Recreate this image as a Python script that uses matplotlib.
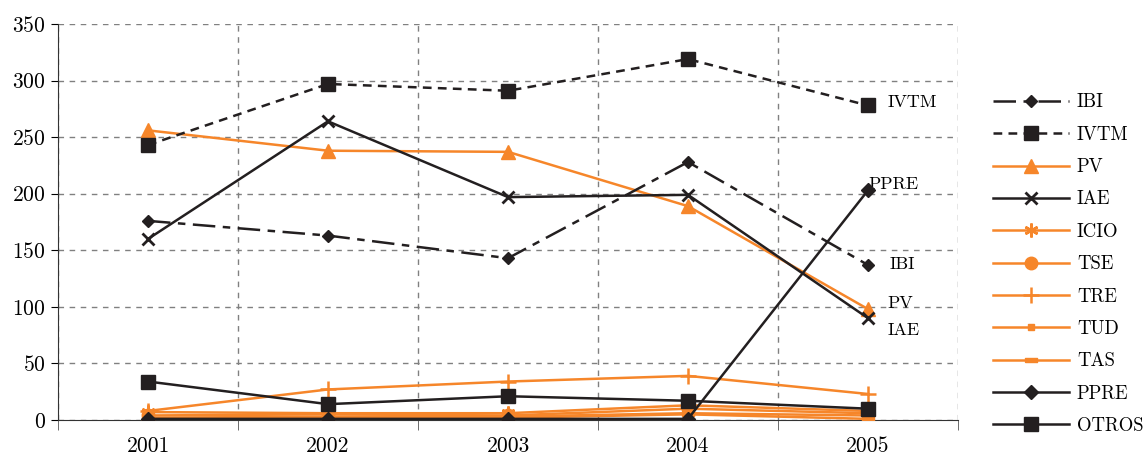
import matplotlib
matplotlib.use("Agg")
import matplotlib.pyplot as plt
import numpy as np

plt.rcParams['font.family'] = ['cmr10', 'DejaVu Serif']
plt.rcParams['axes.formatter.use_mathtext'] = True
plt.rcParams['mathtext.fontset'] = 'cm'

years = [2001, 2002, 2003, 2004, 2005]
IBI = [176, 163, 143, 228, 137]
IVTM = [243, 297, 291, 319, 278]
PV = [256, 238, 237, 189, 98]
IAE = [160, 264, 197, 199, 90]
ICIO = [7, 6, 6, 13, 8]
TSE = [4, 5, 4, 10, 6]
TRE = [8, 27, 34, 39, 23]
TUD = [2, 3, 3, 6, 4]
TAS = [1, 2, 2, 5, 1]
PPRE = [1, 1, 1, 1, 203]
OTROS = [34, 14, 21, 17, 10]

orange = '#F6862A'
black = '#231F20'

rect = [(-1.6, -0.6), (1.6, -0.6), (1.6, 0.6), (-1.6, 0.6), (-1.6, -0.6)]

fig = plt.figure(figsize=(11.46, 4.57), dpi=100)
ax = fig.add_axes([58/1146, 37/457, 900/1146, 396/457])

x = np.array(years)
lw = 1.8
ax.plot(x, IBI, color=black, lw=lw, dashes=(9, 3, 3, 3), marker='D', ms=6, label='IBI', zorder=5)
ax.plot(x, IVTM, color=black, lw=lw, dashes=(3.5, 2.5), marker='s', ms=10, label='IVTM', zorder=5)
ax.plot(x, PV, color=orange, lw=lw, marker='^', ms=10, label='PV', zorder=4)
ax.plot(x, IAE, color=black, lw=lw, marker='x', ms=9, mew=2, label='IAE', zorder=5)
ax.plot(x, ICIO, color=orange, lw=lw, marker=(6, 2, 0), ms=10, mew=1.8, label='ICIO', zorder=4)
ax.plot(x, TSE, color=orange, lw=lw, marker='o', ms=9, label='TSE', zorder=4)
ax.plot(x, TRE, color=orange, lw=lw, marker='+', ms=12, mew=1.8, label='TRE', zorder=4)
ax.plot(x, TUD, color=orange, lw=lw, marker='s', ms=5, label='TUD', zorder=4)
ax.plot(x, TAS, color=orange, lw=lw, marker=rect, ms=8, label='TAS', zorder=4)
ax.plot(x, PPRE, color=black, lw=lw, marker='D', ms=7, label='PPRE', zorder=6)
ax.plot(x, OTROS, color=black, lw=lw, marker='s', ms=10, label='OTROS', zorder=6)

ax.set_xlim(2000.5, 2005.5)
ax.set_ylim(0, 350)
ax.set_xticks(years)
ax.set_xticklabels([str(y) for y in years])
ax.set_xticks(np.arange(2000.5, 2006, 1), minor=True)
ax.set_yticks(np.arange(0, 351, 50))
ax.tick_params(axis='x', which='major', length=0, pad=12, labelsize=15.5)
ax.tick_params(axis='x', which='minor', length=7, direction='out', color='#555555')
ax.tick_params(axis='y', length=5, direction='out', labelsize=15.5, pad=4)
ax.grid(axis='y', which='major', color='#808080', lw=1, dashes=(4, 4))
ax.grid(axis='x', which='minor', color='#808080', lw=1, dashes=(4, 4))
ax.spines['top'].set_visible(False)
ax.spines['right'].set_visible(False)
ax.spines['left'].set_color('#333333')
ax.spines['bottom'].set_color('#333333')
ax.set_axisbelow(True)

ax.text(2005.11, 281, 'IVTM', fontsize=13, va='center', ha='left')
ax.text(2005.0, 208, 'PPRE', fontsize=13, va='center', ha='left')
ax.text(2005.12, 138, 'IBI', fontsize=13, va='center', ha='left')
ax.text(2005.11, 103, 'PV', fontsize=13, va='center', ha='left')
ax.text(2005.11, 79, 'IAE', fontsize=13, va='center', ha='left')

fig.legend(loc='upper left', bbox_to_anchor=(985/1146, 1 - 86/457), frameon=False,
           fontsize=13.5, handlelength=4.1, labelspacing=0.77, handletextpad=0.4,
           borderaxespad=0)

fig.savefig('out.png', dpi=100)
